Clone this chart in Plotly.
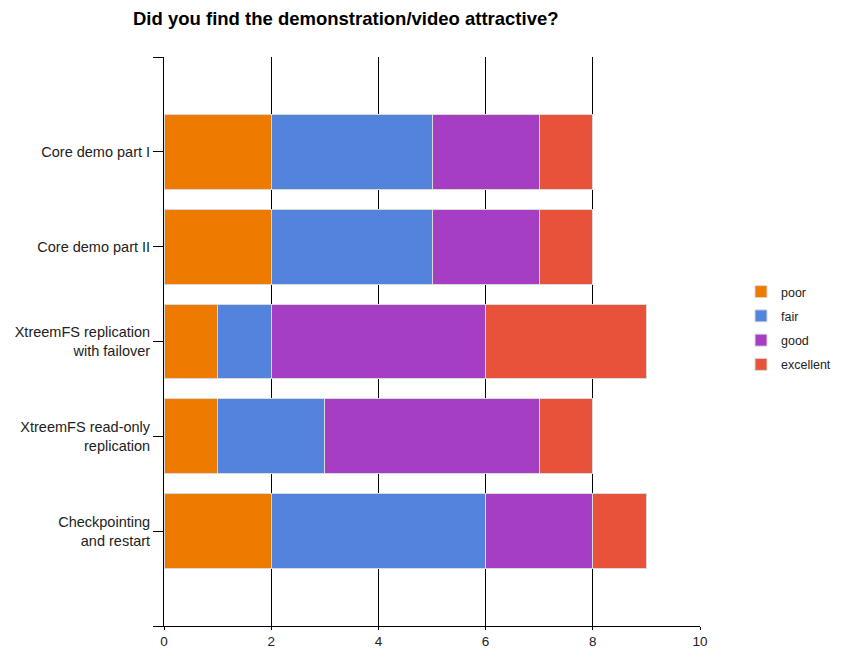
import plotly.graph_objects as go

categories = ["Core demo part I", "Core demo part II", "XtreemFS replication<br>with failover",
              "XtreemFS read-only<br>replication", "Checkpointing<br>and restart"]
series_names = ["poor", "fair", "good", "excellent"]
poor = [2, 2, 1, 1, 2]
fair = [3, 3, 1, 2, 4]
good = [2, 2, 4, 4, 2]
excellent = [1, 1, 3, 1, 1]
x_ticks = [0, 2, 4, 6, 8, 10]

colors = ["#EE7A00", "#5283DD", "#A53EC3", "#E8523A"]
values = [poor, fair, good, excellent]

# page body has an 8px default margin, so the figure is offset by 8px
W, H = 833, 641
L, R, T, B = 156, 141, 49, 23
PW = W - L - R
PH = H - T - B

fig = go.Figure()
for name, vals, col in zip(series_names, values, colors):
    fig.add_trace(go.Bar(
        y=list(range(len(categories))), x=vals, name=name, orientation="h",
        legendgroup=name,
        marker=dict(color=col, line=dict(color="#d9d9d9", width=1)),
    ))

n = len(categories)
fig.update_layout(
    barmode="stack",
    bargap=0.21,
    width=W, height=H,
    margin=dict(l=L, r=R, t=T, b=B, autoexpand=False),
    plot_bgcolor="white", paper_bgcolor="white",
    font=dict(family="Liberation Sans, Arial, sans-serif", size=15, color="#222"),
    title=dict(text="<b>Did you find the demonstration/video attractive?</b>",
               x=125 / W, xanchor="left", y=1 - 11 / H, yanchor="middle",
               font=dict(size=18.5, color="black")),
    xaxis=dict(range=[0, 10], tickvals=x_ticks, showgrid=True, gridcolor="black", gridwidth=1,
               zeroline=False, showline=True, linecolor="black", linewidth=1,
               ticks="outside", ticklen=3, tickcolor="black", tickfont=dict(size=13.5, color="#222"),
               fixedrange=True),
    yaxis=dict(range=[n, -1], tickvals=[-1] + list(range(n)) + [n],
               ticktext=[""] + categories + [""],
               showgrid=False, zeroline=False, showline=True, linecolor="black", linewidth=1,
               ticks="outside", ticklen=10, tickcolor="black", tickfont=dict(size=14.5, color="#222"),
               fixedrange=True),
    legend=dict(x=(733 - 156) / PW, xanchor="left", y=(618 - 320) / PH, yanchor="middle",
                font=dict(size=12.5, color="#222"), traceorder="grouped",
                itemwidth=30, tracegroupgap=5, bgcolor="rgba(0,0,0,0)"),
    showlegend=True,
)
fig.write_html("out.html")
